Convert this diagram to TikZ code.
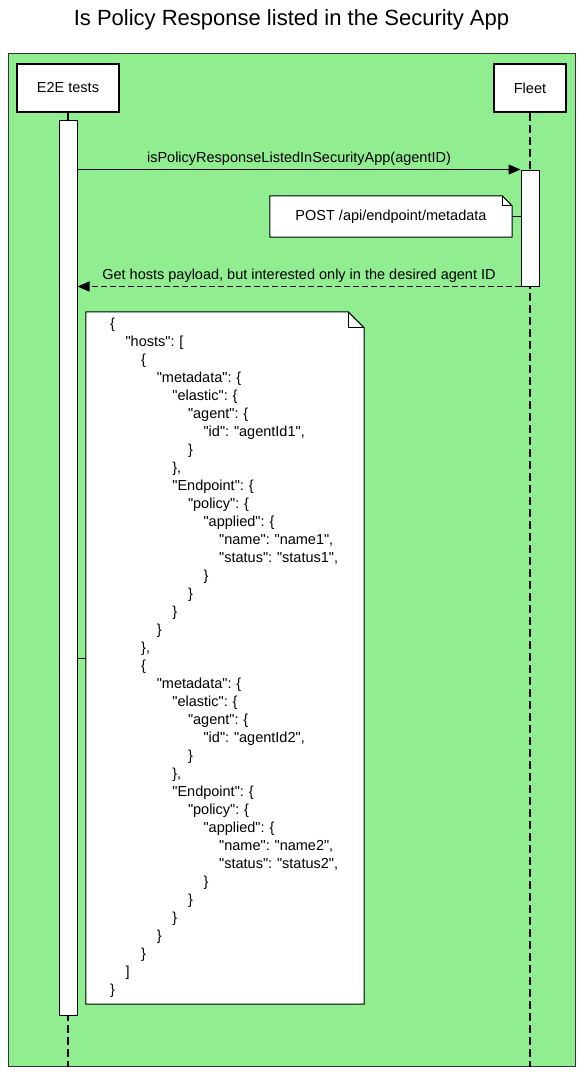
\documentclass[tikz,border=0pt]{standalone}
\usepackage{fontspec}
\setmainfont{Liberation Sans}[Ligatures=TeXOff]
\usetikzlibrary{positioning, arrows.meta, calc}
\definecolor{framegreen}{RGB}{144,238,144}
\tikzset{
    x=1pt, y=-1pt, % pixel-like units, y grows downwards
    every node/.style={font=\fontsize{14.5}{18}\selectfont},
    actor/.style={ % participant boxes at the top
        draw,
        line width=2.6pt,
        fill=white,
        minimum height=48pt,
        inner sep=0pt
    },
    activation/.style={ % white bars on the lifelines
        draw,
        line width=1pt,
        fill=white,
        minimum width=18pt,
        inner sep=0pt
    },
    lifeline/.style={
        draw,
        line width=1.2pt,
        dash pattern=on 8pt off 4pt
    },
    note/.style={ % outline is drawn by \dogear
        draw=none,
        fill=white,
        inner sep=0pt
    },
    msg/.style={ % synchronous call
        draw,
        line width=1.2pt,
        -{Triangle[length=12pt,width=10pt]}
    },
    reply/.style={msg, dash pattern=on 6pt off 3pt},
}
\frenchspacing
\newlength\jsonstep
\setlength\jsonstep{15.6pt}
\newcommand{\ind}[1]{\hspace*{\dimexpr12pt+#1\jsonstep\relax}}
% #1 = note name, #2 = size of the folded corner
\newcommand{\dogear}[2]{%
    \fill[framegreen] ([xshift=-#2]#1.north east) -- (#1.north east) -- ([yshift=-#2]#1.north east) -- cycle;
    \draw[line width=1pt] (#1.south west) -- (#1.north west) -- ([xshift=-#2]#1.north east)
        -- ([yshift=-#2]#1.north east) -- (#1.south east) -- cycle;
    \draw[line width=1pt] ([xshift=-#2]#1.north east) -- ([xshift=-#2,yshift=-#2]#1.north east)
        -- ([yshift=-#2]#1.north east);
}

\begin{document}
\begin{tikzpicture}
    \useasboundingbox (0,0) rectangle (583,1074);
    \node[font=\fontsize{22}{26}\selectfont] (title) at (291.5,20) {Is Policy Response listed in the Security App};
    \node[draw=black!80, line width=1pt, fill=framegreen, minimum width=567pt, minimum height=1013pt] (frame) at (291.5,559.5) {};

    \node[actor, minimum width=102pt] (e2e)   at (68,88)  {E2E tests};
    \node[actor, minimum width=72pt]  (fleet) at (530,88) {Fleet};

    \draw[lifeline] (e2e.south)   -- (e2e.south |- frame.south);
    \draw[lifeline] (fleet.south) -- (fleet.south |- frame.south);

    \node[activation, minimum height=895pt] (e2eact)   at (68,567.5) {};
    \node[activation, minimum height=116pt] (fleetact) at (530,228)  {};

    \node[note, minimum width=242pt, minimum height=41pt] (postnote) at (391,216.5) {POST /api/endpoint/metadata};
    \dogear{postnote}{10pt}

    \node[note, font=\fontsize{14.5}{18}\selectfont, minimum width=278pt, minimum height=692pt,
          inner xsep=12pt, text width=254pt, align=left] (payload) at (225,658) {%
        \ind{0}\{\\
        \ind{1}"hosts": [\\
        \ind{2}\{\\
        \ind{3}"metadata": \{\\
        \ind{4}"elastic": \{\\
        \ind{5}"agent": \{\\
        \ind{6}"id": "agentId1",\\
        \ind{5}\}\\
        \ind{4}\},\\
        \ind{4}"Endpoint": \{\\
        \ind{5}"policy": \{\\
        \ind{6}"applied": \{\\
        \ind{7}"name": "name1",\\
        \ind{7}"status": "status1",\\
        \ind{6}\}\\
        \ind{5}\}\\
        \ind{4}\}\\
        \ind{3}\}\\
        \ind{2}\},\\
        \ind{2}\{\\
        \ind{3}"metadata": \{\\
        \ind{4}"elastic": \{\\
        \ind{5}"agent": \{\\
        \ind{6}"id": "agentId2",\\
        \ind{5}\}\\
        \ind{4}\},\\
        \ind{4}"Endpoint": \{\\
        \ind{5}"policy": \{\\
        \ind{6}"applied": \{\\
        \ind{7}"name": "name2",\\
        \ind{7}"status": "status2",\\
        \ind{6}\}\\
        \ind{5}\}\\
        \ind{4}\}\\
        \ind{3}\}\\
        \ind{2}\}\\
        \ind{1}]\\
        \ind{0}\}};
    \dogear{payload}{16pt}

    \draw[msg]
            (fleetact.north west -| e2eact.east) -- node[above=0pt]{isPolicyResponseListedInSecurityApp(agentID)} (fleetact.north west);
    \draw[reply]
            (fleetact.south west) -- node[above=0pt]{Get hosts payload, but interested only in the desired agent ID} (fleetact.south west -| e2eact.east);
    \draw[line width=1pt]
            (postnote.east) -- (postnote.east -| fleetact.west)
            (payload.west)  -- (payload.west -| e2eact.east);
\end{tikzpicture}
\end{document}
